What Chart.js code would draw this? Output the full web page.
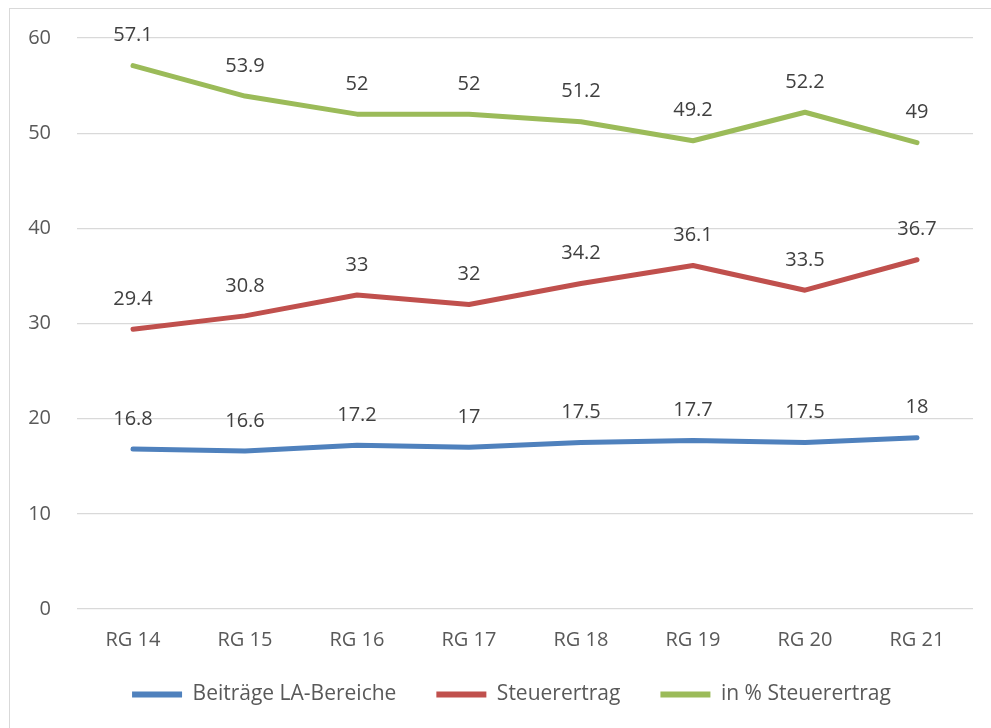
<!DOCTYPE html>
<html>
<head>
<meta charset="utf-8">
<script src="https://cdn.jsdelivr.net/npm/chart.js@4/dist/chart.umd.min.js"></script>
<style>
    html, body { margin: 0; padding: 0; background: #fff; overflow: hidden; }
    #frame { position: absolute; left: 9px; top: 8px; width: 1000px; height: 740px; border: 1px solid #d9d9d9; }
    #wrap { position: absolute; left: 0; top: 0; width: 991px; height: 734px; }
</style>
</head>
<body>
<div id="frame"></div>
<div id="wrap"><canvas id="lineChart"></canvas></div>
<script>
const categories = ['RG 14', 'RG 15', 'RG 16', 'RG 17', 'RG 18', 'RG 19', 'RG 20', 'RG 21'];
const beitraege = [16.8, 16.6, 17.2, 17, 17.5, 17.7, 17.5, 18];
const steuerertrag = [29.4, 30.8, 33, 32, 34.2, 36.1, 33.5, 36.7];
const prozentSteuer = [57.1, 53.9, 52, 52, 51.2, 49.2, 52.2, 49];
const yTicks = [0, 10, 20, 30, 40, 50, 60];

const fontFamily = '"Open Sans", "Liberation Sans", sans-serif';
const textColor = '#595959';

// draws the value over each point (no datalabels plugin available)
const valueLabels = {
    id: 'valueLabels',
    afterDatasetsDraw(chart) {
        const ctx = chart.ctx;
        ctx.save();
        ctx.font = '20px ' + fontFamily;
        ctx.fillStyle = '#404040';
        ctx.textAlign = 'center';
        ctx.textBaseline = 'middle';
        chart.data.datasets.forEach((ds, i) => {
            chart.getDatasetMeta(i).data.forEach((pt, j) => {
                ctx.fillText(String(ds.data[j]), pt.x, pt.y - 30);
            });
        });
        ctx.restore();
    }
};

// nudge the legend a bit right and up, like in the original
const legendShift = {
    id: 'legendShift',
    afterLayout(chart) {
        const lg = chart.legend;
        lg.left += 25; lg.right += 25;
        lg.top -= 19; lg.bottom -= 19;
    }
};

function makeSet(label, data, color) {
    return {
        label: label,
        data: data,
        borderColor: color,
        backgroundColor: color,
        borderWidth: 5,
        borderCapStyle: 'round',
        borderJoinStyle: 'round',
        pointRadius: 0,
        tension: 0
    };
}

new Chart(document.getElementById('lineChart'), {
    type: 'line',
    data: {
        labels: categories,
        datasets: [
            makeSet('Beiträge LA-Bereiche', beitraege, '#4f81bd'),
            makeSet('Steuerertrag', steuerertrag, '#c0504d'),
            makeSet('in % Steuerertrag', prozentSteuer, '#9bbb59')
        ]
    },
    options: {
        responsive: true,
        maintainAspectRatio: false,
        animation: false,
        layout: { padding: { top: 38, right: 18, left: 0, bottom: 0 } },
        scales: {
            x: {
                offset: true,
                grid: { display: false },
                border: { display: false },
                ticks: { color: textColor, font: { family: fontFamily, size: 20 }, padding: 11 }
            },
            y: {
                min: 0,
                max: 60,
                afterBuildTicks(scale) { scale.ticks = yTicks.map(v => ({ value: v })); },
                afterFit(scale) { scale.width = 77; },
                grid: { color: '#d9d9d9', lineWidth: 1.3, drawTicks: false },
                border: { display: false },
                ticks: { color: textColor, font: { family: fontFamily, size: 20 }, padding: 26 }
            }
        },
        plugins: {
            tooltip: { enabled: false },
            legend: {
                position: 'bottom',
                labels: {
                    color: textColor,
                    font: { family: fontFamily, size: 21 },
                    boxWidth: 50,
                    boxHeight: 6,
                    padding: 40,
                    generateLabels(chart) {
                        return chart.data.datasets.map((ds, i) => ({
                            text: ds.label,
                            fillStyle: ds.borderColor,
                            strokeStyle: ds.borderColor,
                            lineWidth: 0,
                            fontColor: textColor,
                            datasetIndex: i
                        }));
                    }
                }
            }
        }
    },
    plugins: [valueLabels, legendShift]
});
</script>
</body>
</html>
